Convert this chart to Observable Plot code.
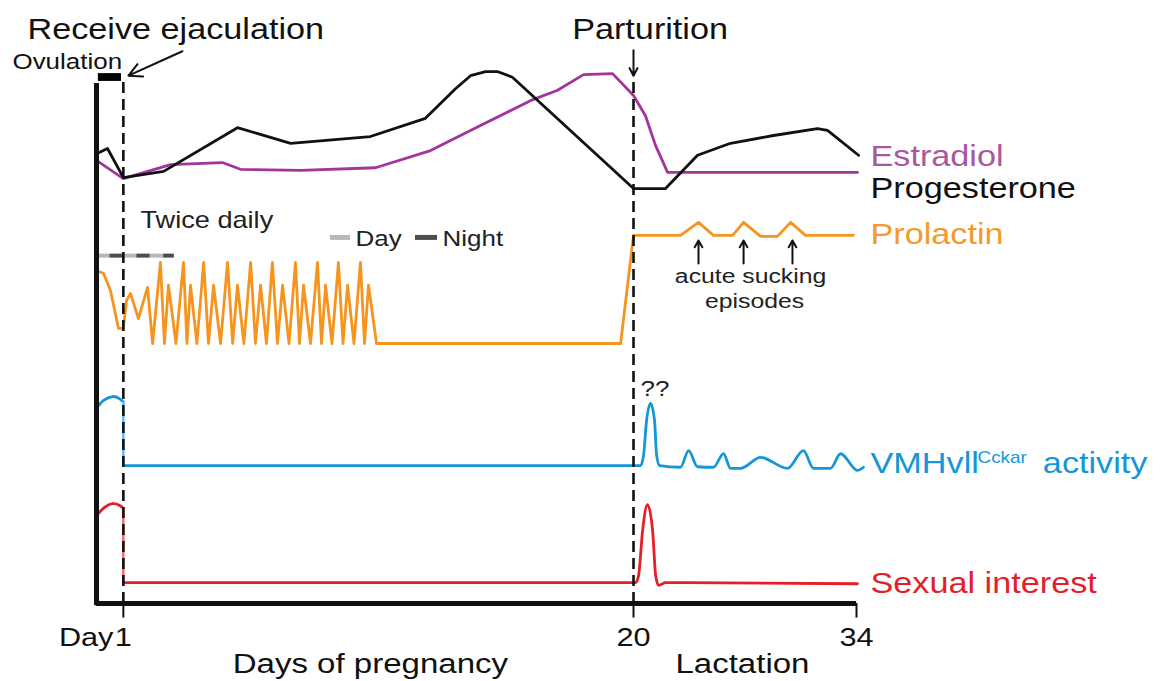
<!DOCTYPE html>
<html><head><meta charset="utf-8">
<script src="https://cdn.jsdelivr.net/npm/d3@7"></script>
<script src="https://cdn.jsdelivr.net/npm/@observablehq/plot@0.6"></script>
<style>body{margin:0;background:#fff}</style>
</head><body><div id="chart"></div>
<script>
// ---- data: [day, relative level] ----
const progesterone = [[0,86.5],[0.41,87.5],[1,81.9],[2.5,83.1],[5.25,91.5],[7.23,88.5],[10.2,89.8],[12.25,93.3],[13.37,99.0],[13.93,101.5],[14.49,102.3],[14.93,102.3],[15.49,101.2],[20,79.8],[22.01,79.8],[24.02,86.2],[26.09,88.5],[28.79,90.0],[31.55,91.3],[32.18,91.0],[34.13,86.2]];
const estradiol = [[0,85.2],[1,81.7],[2.76,84.4],[4.69,84.8],[5.36,83.5],[7.6,83.3],[10.39,83.8],[12.44,87.1],[14.3,91.9],[16.16,96.7],[17.17,98.7],[18.14,101.7],[19.22,101.9],[20,97.7],[20.75,93.8],[21.38,88.1],[22.14,82.9],[34.06,82.9]];
const prolactin = [[0,64.0],[0.26,63.5],[0.52,60.2],[0.82,52.9],[1.0,52.9],[1.12,58.3],[1.27,59.6],[1.56,54.8],[1.9,60.8],[2.09,50],[2.38,65.6],[2.53,50],[2.68,61.2],[2.96,50],[3.24,65.6],[3.37,50],[3.5,61.2],[3.74,50],[3.99,65.6],[4.17,50],[4.36,61.2],[4.62,50],[4.88,65.6],[5.07,50],[5.25,61.2],[5.49,50],[5.74,65.6],[5.92,50],[6.11,61.2],[6.33,50],[6.55,65.6],[6.74,50],[6.93,61.2],[7.17,50],[7.41,65.6],[7.56,50],[7.71,61.2],[7.97,50],[8.23,65.6],[8.38,50],[8.53,61.2],[8.77,50],[9.01,65.6],[9.18,50],[9.35,61.2],[9.59,50],[9.83,65.6],[9.98,50],[10.13,61.2],[10.43,50],[19.52,50],[20,70.8],[22.95,70.8],[24.08,73.3],[25.02,70.8],[26.22,70.8],[26.91,73.3],[27.98,70.6],[29.04,70.6],[29.86,73.3],[30.8,70.8],[33.81,70.8]];
const vmhOvulation = [[0,37.5],[0.25,39.0],[0.6,39.8],[0.85,39.4],[1,38.8]];
const vmhPregnancy = [[1,26.5],[20.44,26.5],[20.63,28.5],[20.82,35.2],[21.07,38.5],[21.32,35.2],[21.45,28.5],[21.64,26.5],[22.95,26.2],[23.46,29.4],[24.02,26.3],[25.02,26.2],[25.65,28.8],[26.09,26.0],[26.72,26.0],[27.98,28.1],[29.67,26.0],[30.67,29.4],[31.3,26.0],[32.37,26.0],[33.0,28.8],[34.06,25.6],[34.44,26.2]];
const sexOvulation = [[0,16.9],[0.3,18.5],[0.6,19.2],[0.85,18.9],[1,18.3]];
const sexPregnancy = [[1,4.0],[20.13,4.0],[20.32,5.4],[20.57,14.0],[20.88,19.0],[21.2,14.0],[21.39,5.4],[21.58,3.5],[22.02,4.0],[34.06,3.8]];
const daySegments = [[0,0.5],[1,1.5],[2,2.5]];
const nightSegments = [[0.5,1],[1.5,2],[2.5,2.9]];
const suckingEpisodes = [24.08, 26.91, 29.98];
const eventDays = [1, 20];
const tickDays = [1, 20, 34];
const seriesNames = ["Estradiol", "Progesterone", "Prolactin", "VMHvll", "Cckar", "activity", "Sexual interest"];

const rows = a => a.map(([day, level]) => ({day, level}));
const segs = a => a.map(([s, e]) => ({s, e}));

// lactation days are drawn compressed relative to pregnancy days
const LACT = 0.5932;
const squeeze = d => d <= 20 ? d : 20 + (d - 20) * LACT;

const FONT = "Liberation Sans, Arial, Helvetica, sans-serif";
const C = {est: "#a3349c", estT: "#a9589f", prl: "#f7941d", prlT: "#f59a2a", vmh: "#1497d8", sex: "#e41f2a"};
const line = (d, stroke, curve = "linear") => Plot.line(rows(d), {x: "day", y: "level", stroke, strokeWidth: 2.8, curve, strokeLinejoin: "round"});
const label = (t, x, y, o = {}) => Plot.text([t], {x, y, text: d => d, fontSize: 29, textAnchor: "start", fill: "#111", ...o});

const chart = Plot.plot({
  width: 1163, height: 681, margin: 0,
  style: {background: "#fff", fontFamily: FONT},
  x: {type: "linear", transform: squeeze, domain: [0, squeeze(34)], range: [96, 856], axis: null},
  y: {domain: [0, 100], range: [603, 83], axis: null},
  marks: [
    // day/night bar
    Plot.ruleY(segs(daySegments), {y: 66.9, x1: "s", x2: "e", stroke: "#b8b8b8", strokeWidth: 4}),
    Plot.ruleY(segs(nightSegments), {y: 66.9, x1: "s", x2: "e", stroke: "#4d4d4d", strokeWidth: 4}),
    // legend of bar
    Plot.ruleY([0], {y: 70.4, x1: 8.71, x2: 9.46, stroke: "#b8b8b8", strokeWidth: 5}),
    Plot.ruleY([0], {y: 70.4, x1: 11.88, x2: 12.7, stroke: "#4d4d4d", strokeWidth: 5}),
    // series
    line(prolactin, C.prl),
    line(estradiol, C.est),
    line(progesterone, "#111"),
    line(vmhOvulation, C.vmh, "natural"),
    Plot.ruleX([1], {y1: 26.5, y2: 38.8, stroke: "#5cc0ec", strokeWidth: 2.5}),
    line(vmhPregnancy, C.vmh, "monotone-x"),
    line(sexOvulation, C.sex, "natural"),
    Plot.ruleX([1], {y1: 4.0, y2: 18.3, stroke: "#f06a70", strokeWidth: 2.5}),
    line(sexPregnancy, C.sex, "monotone-x"),
    // event dashed lines
    Plot.ruleX(eventDays, {y1: 0, y2: d => d === 1 ? 101.2 : 101.5, stroke: "#111", strokeWidth: 2.6, strokeDasharray: "11,6"}),
    // axes
    Plot.ruleX([0], {y1: -0.45, y2: 100, stroke: "#111", strokeWidth: 5}),
    Plot.ruleY([0], {x1: 0, x2: 34, stroke: "#111", strokeWidth: 5}),
    Plot.ruleX(tickDays, {y1: 0, y2: -2.8, stroke: "#111", strokeWidth: 2}),
    // ovulation bar
    Plot.rect([0], {x1: 0.07, x2: 0.93, y1: 100.4, y2: 101.9, fill: "#000"}),
    // arrows
    Plot.arrow([0], {x1: 3.2, y1: 106.2, x2: 1.19, y2: 101.5, stroke: "#111", strokeWidth: 2, headLength: 11, headAngle: 55}),
    Plot.arrow([0], {x1: 20, y1: 106.4, x2: 20, y2: 101.5, stroke: "#111", strokeWidth: 2, headLength: 10, headAngle: 55}),
    Plot.arrow(suckingEpisodes, {x1: d => d, x2: d => d, y1: 65.4, y2: 69.8, stroke: "#111", strokeWidth: 2, headLength: 9, headAngle: 60}),
    // annotations
    label("Receive ejaculation", -2.57, 110.4),
    label("Parturition", 21.04, 110.4, {textAnchor: "middle"}),
    label("Ovulation", -3.13, 104.2, {fontSize: 22}),
    label("Twice daily", 1.64, 73.7, {fontSize: 23, fill: "#222"}),
    label("Day", 9.65, 70.2, {fontSize: 22, fill: "#222"}),
    label("Night", 12.89, 70.2, {fontSize: 22, fill: "#222"}),
    label("acute sucking", 27.35, 63.0, {fontSize: 21, textAnchor: "middle", fill: "#222"}),
    label("episodes", 27.6, 58.1, {fontSize: 21, textAnchor: "middle", fill: "#222"}),
    label("??", 20.44, 41.3, {fontSize: 22, fill: "#222"}),
    // series labels
    label(seriesNames[0], 34.88, 86.0, {fill: C.estT}),
    label(seriesNames[1], 34.88, 79.7, {fill: "#111"}),
    label(seriesNames[2], 34.88, 71.0, {fill: C.prlT}),
    label(seriesNames[3], 34.88, 26.8, {fill: C.vmh}),
    label(seriesNames[4], 41.6, 28.1, {fill: C.vmh, fontSize: 16}),
    label(seriesNames[5], 45.7, 26.8, {fill: C.vmh}),
    label(seriesNames[6], 34.88, 3.9, {fill: C.sex}),
    // x labels
    label("Day", 0.63, -6.5, {fontSize: 26, textAnchor: "end"}),
    Plot.text(tickDays, {x: d => d, y: -6.5, text: d => String(d), fontSize: 26, fill: "#111"}),
    label("Days of pregnancy", 10.2, -11.7, {fontSize: 28, textAnchor: "middle"}),
    label("Lactation", 26.84, -11.7, {fontSize: 28, textAnchor: "middle"})
  ]
});

d3.select(chart).selectAll("text").each(function () {
  const t = this.getAttribute("transform");
  if (t) this.setAttribute("transform", t + " scale(1.18,1)");
});
document.getElementById("chart").appendChild(chart);
</script>
</body></html>
